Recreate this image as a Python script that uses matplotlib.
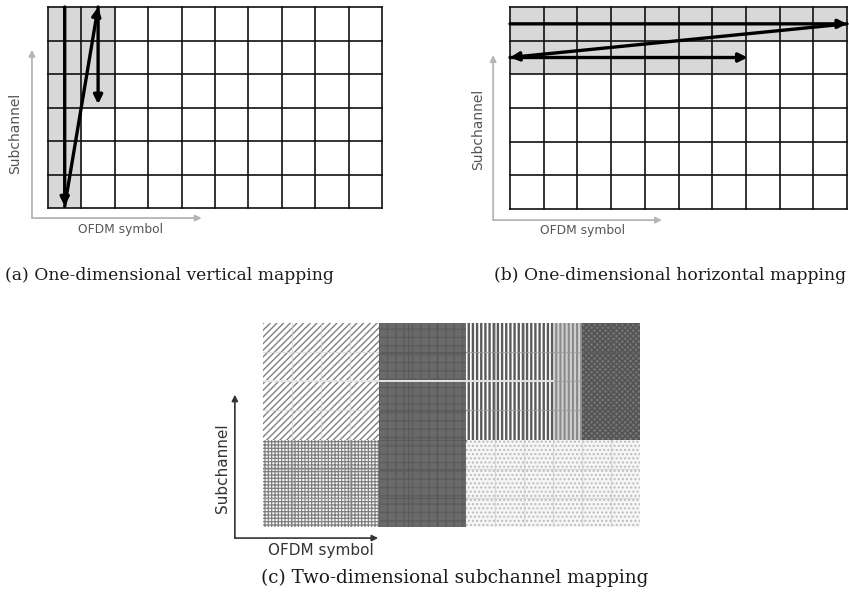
import matplotlib
matplotlib.use("Agg")
import matplotlib.pyplot as plt
from matplotlib.patches import Rectangle

plt.rcParams["hatch.linewidth"] = 1.0

W, H = 849, 595

# ---------------- data ----------------
# panels (a) and (b): resource grid of OFDM symbols x subchannels
n_cols = 10
n_rows = 6

# (a) vertical mapping: shaded cells (column, row), row 0 = bottom
a_shaded_cols = [0, 0, 0, 0, 0, 0, 1, 1, 1]
a_shaded_rows = [0, 1, 2, 3, 4, 5, 3, 4, 5]
# mapping order arrows (start x, start y, end x, end y)
a_arrow_x0 = [0.5, 0.5, 1.5]
a_arrow_y0 = [6.0, 0.05, 6.0]
a_arrow_x1 = [0.5, 1.5, 1.5]
a_arrow_y1 = [0.05, 6.0, 3.1]

# (b) horizontal mapping
b_shaded_cols = [0, 1, 2, 3, 4, 5, 6, 7, 8, 9, 0, 1, 2, 3, 4, 5, 6]
b_shaded_rows = [5, 5, 5, 5, 5, 5, 5, 5, 5, 5, 4, 4, 4, 4, 4, 4, 4]
b_arrow_x0 = [0.0, 10.0, 0.0]
b_arrow_y0 = [5.5, 5.5, 4.5]
b_arrow_x1 = [10.0, 0.0, 7.05]
b_arrow_y1 = [5.5, 4.5, 4.5]

# (c) two-dimensional mapping: 13 x 7 cell grid split in blocks
c_cols = 13
c_rows = 7
c_block_x0 = [0, 0, 4, 7, 10, 11, 7]
c_block_x1 = [4, 4, 7, 10, 11, 13, 13]
c_block_y0 = [3, 0, 0, 3, 3, 3, 0]
c_block_y1 = [7, 3, 7, 7, 7, 7, 3]

captions = ["(a) One-dimensional vertical mapping",
            "(b) One-dimensional horizontal mapping",
            "(c) Two-dimensional subchannel mapping"]
axis_x_label = "OFDM symbol"
axis_y_label = "Subchannel"

# ---------------- styles ----------------
c_face = ["#ffffff", "#f4f4f4", "#6a6a6a", "#ffffff", "#d0d0d0", "#747474", "#f6f6f6"]
c_hatch = ["/////", "+++++", "++", "||||", "||||", "xxxxxx", "...."]
c_hcol = ["#808080", "#7a7a7a", "#5c5c5c", "#5a5a5a", "#8a8a8a", "#525252", "#bcbcbc"]
c_hlw = [1.0, 0.8, 1.0, 1.7, 1.5, 1.0, 1.0]
c_gridcol = ["#d6d6d6", "#9a9a9a", "#555555", "#9a9a9a", "#9a9a9a", "#5a5a5a", "#d0d0d0"]


def box(l, t, r, b):
    return [l / W, 1 - b / H, (r - l) / W, (b - t) / H]


fig = plt.figure(figsize=(W / 100, H / 100), dpi=100)
fig.patch.set_facecolor("white")

sans = ["DejaVu Sans"]
serif = ["DejaVu Serif"]


def grid_panel(ax, cols, rows, shade_c, shade_r, ax0, ay0, ax1, ay1):
    ax.set_xlim(0, cols)
    ax.set_ylim(0, rows)
    ax.axis("off")
    for c, r in zip(shade_c, shade_r):
        ax.add_patch(Rectangle((c, r), 1, 1, facecolor="#d8d8d8",
                               edgecolor="none", zorder=1))
    for i in range(cols + 1):
        ax.plot([i, i], [0, rows], color="#111111", lw=1.2, zorder=2,
                clip_on=False)
    for j in range(rows + 1):
        ax.plot([0, cols], [j, j], color="#111111", lw=1.2, zorder=2,
                clip_on=False)
    for x0, y0, x1, y1 in zip(ax0, ay0, ax1, ay1):
        ax.annotate("", xy=(x1, y1), xytext=(x0, y0),
                    arrowprops=dict(arrowstyle="-|>", lw=2.4, color="black",
                                    mutation_scale=13, shrinkA=0, shrinkB=0),
                    zorder=3, annotation_clip=False)


def axis_arrows(ax, x0, y0, xend, yend, color, lw, ms):
    ax.annotate("", xy=(x0, yend), xytext=(x0, y0),
                arrowprops=dict(arrowstyle="-|>", lw=lw, color=color,
                                mutation_scale=ms, shrinkA=0, shrinkB=0),
                annotation_clip=False)
    ax.annotate("", xy=(xend, y0), xytext=(x0, y0),
                arrowprops=dict(arrowstyle="-|>", lw=lw, color=color,
                                mutation_scale=ms, shrinkA=0, shrinkB=0),
                annotation_clip=False)


# ---- panel (a)
ax_a = fig.add_axes(box(48, 7, 382, 208))
grid_panel(ax_a, n_cols, n_rows, a_shaded_cols, a_shaded_rows,
           a_arrow_x0, a_arrow_y0, a_arrow_x1, a_arrow_y1)
axis_arrows(ax_a, -0.48, -0.3, 4.6, 4.72, "#b5b5b5", 1.3, 9)
ax_a.text(-0.99, 2.24, axis_y_label, rotation=90, ha="center", va="center",
          fontsize=10, color="#555555", family=sans)
ax_a.text(2.16, -0.63, axis_x_label, ha="center", va="center",
          fontsize=8.8, color="#555555", family=sans)

# ---- panel (b)
ax_b = fig.add_axes(box(510, 7, 847, 209))
grid_panel(ax_b, n_cols, n_rows, b_shaded_cols, b_shaded_rows,
           b_arrow_x0, b_arrow_y0, b_arrow_x1, b_arrow_y1)
axis_arrows(ax_b, -0.5, -0.33, 4.51, 4.57, "#b5b5b5", 1.3, 9)
ax_b.text(-0.95, 2.37, axis_y_label, rotation=90, ha="center", va="center",
          fontsize=10, color="#555555", family=sans)
ax_b.text(2.14, -0.65, axis_x_label, ha="center", va="center",
          fontsize=8.8, color="#555555", family=sans)

# ---- panel (c)
ax_c = fig.add_axes(box(263, 323, 640, 527))
ax_c.set_xlim(0, c_cols)
ax_c.set_ylim(0, c_rows)
ax_c.axis("off")
for k, (x0, x1, y0, y1) in enumerate(zip(c_block_x0, c_block_x1,
                                         c_block_y0, c_block_y1)):
    with plt.rc_context({"hatch.linewidth": c_hlw[k]}):
        p = Rectangle((x0, y0), x1 - x0, y1 - y0,
                      facecolor=c_face[k], edgecolor=c_hcol[k],
                      hatch=c_hatch[k], lw=0, zorder=1)
        if hasattr(p, "set_hatch_linewidth"):
            p.set_hatch_linewidth(c_hlw[k])
        ax_c.add_patch(p)
    for i in range(x0 + 1, x1):
        ax_c.plot([i, i], [y0, y1], color=c_gridcol[k], lw=0.9, zorder=2,
                  alpha=0.7)
    for j in range(y0 + 1, y1):
        ax_c.plot([x0, x1], [j, j], color=c_gridcol[k], lw=0.9, zorder=2,
                  alpha=0.7)
ax_c.plot([0, 10], [5, 5], color="#e4e4e4", lw=1.4, zorder=3)
axis_arrows(ax_c, -0.97, -0.38, 3.97, 4.54, "#333333", 1.2, 9)
ax_c.text(-1.38, 2.03, axis_y_label, rotation=90, ha="center", va="center",
          fontsize=11, color="#333333", family=sans)
ax_c.text(2.0, -0.79, axis_x_label, ha="center", va="center",
          fontsize=11, color="#333333", family=sans)

# ---- captions
fig.text(5 / W, 1 - 275 / H, captions[0], ha="left", va="center",
         fontsize=12.3, color="#1a1a1a", family=serif)
fig.text(494 / W, 1 - 275 / H, captions[1], ha="left", va="center",
         fontsize=12.3, color="#1a1a1a", family=serif)
fig.text(455 / W, 1 - 578 / H, captions[2], ha="center", va="center",
         fontsize=13.2, color="#1a1a1a", family=serif)

fig.savefig("out.png", dpi=100, facecolor="white")
